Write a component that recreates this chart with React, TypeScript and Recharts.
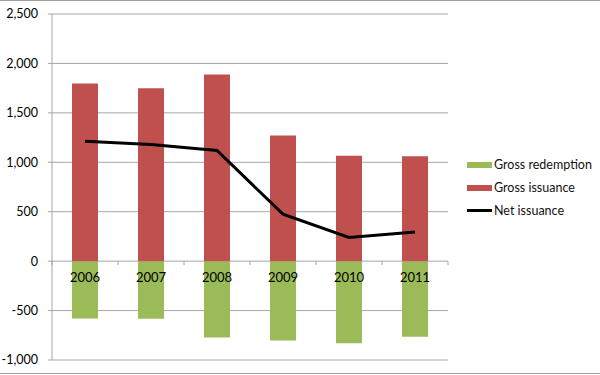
import React from 'react';
import {
  ComposedChart,
  Bar,
  Line,
  XAxis,
  YAxis,
  CartesianGrid,
  Legend,
  ReferenceLine,
  LabelList,
} from 'recharts';

// values
const years = ['2006', '2007', '2008', '2009', '2010', '2011'];
const grossRedemption = [-580, -583, -772, -802, -830, -765];
const grossIssuance = [1797, 1750, 1888, 1271, 1065, 1062];
const netIssuance = [1213, 1180, 1119, 475, 240, 296];
const yTicks = [-1000, -500, 0, 500, 1000, 1500, 2000, 2500];

const FONT = 'Lato, "Noto Sans", sans-serif';
const GRID = '#a6a6a6';

const data = years.map((year, i) => ({
  year,
  'Gross redemption': grossRedemption[i],
  'Gross issuance': grossIssuance[i],
  'Net issuance': netIssuance[i],
}));

const legendOrder = ['Gross redemption', 'Gross issuance', 'Net issuance'];

const renderLegend = (props: any) => {
  const items = [...(props.payload || [])].sort(
    (a: any, b: any) => legendOrder.indexOf(a.value) - legendOrder.indexOf(b.value)
  );
  return (
    <div style={{ fontFamily: FONT, fontSize: 12.5, color: '#111' }}>
      {items.map((item: any) => (
        <div key={item.value} style={{ display: 'flex', alignItems: 'center', height: 23 }}>
          {item.type === 'line' ? (
            <span style={{ display: 'inline-block', width: 25, height: 3, background: '#000', marginRight: 2 }} />
          ) : (
            <span style={{ display: 'inline-block', width: 25, height: 6, background: item.color, marginRight: 2 }} />
          )}
          <span>{item.value}</span>
        </div>
      ))}
    </div>
  );
};

// small tick marks along the zero line, one per category boundary
const ZeroTicks = (props: any) => {
  const { x1, x2, y1 } = props;
  if (x1 == null || x2 == null) return null;
  const n = years.length;
  const step = (x2 - x1) / n;
  return (
    <g>
      {Array.from({ length: n + 1 }, (_, i) => (
        <line key={i} x1={x1 + i * step} x2={x1 + i * step} y1={y1} y2={y1 + 4} stroke={GRID} />
      ))}
    </g>
  );
};

const App: React.FC = () => {
  return (
    <div
      style={{
        position: 'absolute',
        left: 0,
        top: 0,
        width: 600,
        height: 374,
        boxSizing: 'border-box',
        borderTop: '1px solid #a0a0a0',
        borderBottom: '1px solid #a0a0a0',
        background: '#fff',
      }}
    >
      <ComposedChart
        width={600}
        height={372}
        data={data}
        stackOffset="sign"
        margin={{ top: 13, right: 152, bottom: 13, left: 0 }}
      >
        <CartesianGrid vertical={false} stroke={GRID} />
        <XAxis dataKey="year" hide />
        <YAxis
          width={52}
          domain={[-1000, 2500]}
          ticks={yTicks}
          interval={0}
          axisLine={{ stroke: GRID }}
          tickLine={{ stroke: GRID }}
          tickSize={4}
          tickMargin={10}
          tick={{ fill: '#000', fontSize: 12.5, fontFamily: FONT }}
          tickFormatter={(v: number) => v.toLocaleString('en-US')}
        />
        <Legend
          layout="vertical"
          verticalAlign="middle"
          align="center"
          wrapperStyle={{ left: 467, top: 152, width: 130 }}
          content={renderLegend}
        />
        <Bar
          dataKey="Gross redemption"
          stackId="a"
          fill="#9bbb59"
          barSize={26}
          isAnimationActive={false}
        >
          <LabelList
            dataKey="year"
            position="insideBottom"
            offset={12}
            fill="#000"
            fontSize={13}
            fontFamily={FONT}
          />
        </Bar>
        <Bar
          dataKey="Gross issuance"
          stackId="a"
          fill="#c0504d"
          barSize={26}
          isAnimationActive={false}
        />
        <ReferenceLine y={0} stroke="none" shape={ZeroTicks} />
        <Line
          type="linear"
          dataKey="Net issuance"
          stroke="#000"
          strokeWidth={3}
          dot={false}
          legendType="line"
          isAnimationActive={false}
        />
      </ComposedChart>
    </div>
  );
};

export default App;
